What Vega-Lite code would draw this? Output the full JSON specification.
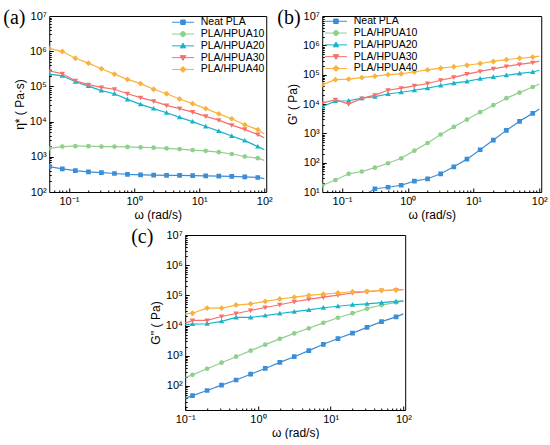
{
  "$schema": "https://vega.github.io/schema/vega-lite/v6.json",
  "background": "white",
  "padding": {"left": 2, "top": 7, "right": 0, "bottom": 0},
  "datasets": {
    "a": [
      {"w": 0.0501, "Neat PLA": 525, "PLA/HPUA10": 1740, "PLA/HPUA20": 224000, "PLA/HPUA30": 275000, "PLA/HPUA40": 1200000},
      {"w": 0.0794, "Neat PLA": 455, "PLA/HPUA10": 1950, "PLA/HPUA20": 200000, "PLA/HPUA30": 229000, "PLA/HPUA40": 977000},
      {"w": 0.126, "Neat PLA": 405, "PLA/HPUA10": 2000, "PLA/HPUA20": 135000, "PLA/HPUA30": 145000, "PLA/HPUA40": 631000},
      {"w": 0.2, "Neat PLA": 375, "PLA/HPUA10": 2000, "PLA/HPUA20": 102000, "PLA/HPUA30": 112000, "PLA/HPUA40": 457000},
      {"w": 0.316, "Neat PLA": 355, "PLA/HPUA10": 1950, "PLA/HPUA20": 75900, "PLA/HPUA30": 93300, "PLA/HPUA40": 316000},
      {"w": 0.501, "Neat PLA": 335, "PLA/HPUA10": 1950, "PLA/HPUA20": 61700, "PLA/HPUA30": 83200, "PLA/HPUA40": 224000},
      {"w": 0.794, "Neat PLA": 318, "PLA/HPUA10": 1905, "PLA/HPUA20": 42700, "PLA/HPUA30": 61700, "PLA/HPUA40": 158000},
      {"w": 1.26, "Neat PLA": 308, "PLA/HPUA10": 1860, "PLA/HPUA20": 30900, "PLA/HPUA30": 47900, "PLA/HPUA40": 120000},
      {"w": 2, "Neat PLA": 302, "PLA/HPUA10": 1820, "PLA/HPUA20": 23400, "PLA/HPUA30": 38000, "PLA/HPUA40": 83200},
      {"w": 3.16, "Neat PLA": 298, "PLA/HPUA10": 1740, "PLA/HPUA20": 17800, "PLA/HPUA30": 28800, "PLA/HPUA40": 61700},
      {"w": 5.01, "Neat PLA": 295, "PLA/HPUA10": 1660, "PLA/HPUA20": 13200, "PLA/HPUA30": 23400, "PLA/HPUA40": 43700},
      {"w": 7.94, "Neat PLA": 292, "PLA/HPUA10": 1550, "PLA/HPUA20": 10000, "PLA/HPUA30": 18600, "PLA/HPUA40": 32400},
      {"w": 12.6, "Neat PLA": 288, "PLA/HPUA10": 1480, "PLA/HPUA20": 7240, "PLA/HPUA30": 14100, "PLA/HPUA40": 23400},
      {"w": 20, "Neat PLA": 282, "PLA/HPUA10": 1350, "PLA/HPUA20": 5370, "PLA/HPUA30": 11000, "PLA/HPUA40": 16600},
      {"w": 31.6, "Neat PLA": 278, "PLA/HPUA10": 1200, "PLA/HPUA20": 3890, "PLA/HPUA30": 7940, "PLA/HPUA40": 12000},
      {"w": 50.1, "Neat PLA": 270, "PLA/HPUA10": 1020, "PLA/HPUA20": 2880, "PLA/HPUA30": 6030, "PLA/HPUA40": 8130},
      {"w": 79.4, "Neat PLA": 258, "PLA/HPUA10": 912, "PLA/HPUA20": 1950, "PLA/HPUA30": 4270, "PLA/HPUA40": 5890},
      {"w": 100, "Neat PLA": 240, "PLA/HPUA10": 794, "PLA/HPUA20": 1580, "PLA/HPUA30": 3470, "PLA/HPUA40": 4470}
    ],
    "b": [
      {"w": 0.0501, "Neat PLA": 3.2, "PLA/HPUA10": 16.6, "PLA/HPUA20": 8130, "PLA/HPUA30": 10700, "PLA/HPUA40": 45700},
      {"w": 0.0794, "Neat PLA": 4.0, "PLA/HPUA10": 25.7, "PLA/HPUA20": 12600, "PLA/HPUA30": 14100, "PLA/HPUA40": 67600},
      {"w": 0.126, "Neat PLA": 5.0, "PLA/HPUA10": 41.7, "PLA/HPUA20": 12900, "PLA/HPUA30": 10000, "PLA/HPUA40": 70800},
      {"w": 0.2, "Neat PLA": 7.1, "PLA/HPUA10": 50.1, "PLA/HPUA20": 15800, "PLA/HPUA30": 15500, "PLA/HPUA40": 79400},
      {"w": 0.316, "Neat PLA": 12.9, "PLA/HPUA10": 67.6, "PLA/HPUA20": 17800, "PLA/HPUA30": 20000, "PLA/HPUA40": 89100},
      {"w": 0.501, "Neat PLA": 14.5, "PLA/HPUA10": 95.5, "PLA/HPUA20": 21900, "PLA/HPUA30": 29500, "PLA/HPUA40": 100000},
      {"w": 0.794, "Neat PLA": 17.0, "PLA/HPUA10": 141, "PLA/HPUA20": 25100, "PLA/HPUA30": 34700, "PLA/HPUA40": 107000},
      {"w": 1.26, "Neat PLA": 23.4, "PLA/HPUA10": 257, "PLA/HPUA20": 29500, "PLA/HPUA30": 41700, "PLA/HPUA40": 126000},
      {"w": 2, "Neat PLA": 28.2, "PLA/HPUA10": 468, "PLA/HPUA20": 34700, "PLA/HPUA30": 50100, "PLA/HPUA40": 145000},
      {"w": 3.16, "Neat PLA": 41.7, "PLA/HPUA10": 912, "PLA/HPUA20": 42700, "PLA/HPUA30": 64600, "PLA/HPUA40": 166000},
      {"w": 5.01, "Neat PLA": 72.4, "PLA/HPUA10": 1660, "PLA/HPUA20": 51300, "PLA/HPUA30": 81300, "PLA/HPUA40": 186000},
      {"w": 7.94, "Neat PLA": 132, "PLA/HPUA10": 2950, "PLA/HPUA20": 58900, "PLA/HPUA30": 105000, "PLA/HPUA40": 209000},
      {"w": 12.6, "Neat PLA": 275, "PLA/HPUA10": 5250, "PLA/HPUA20": 72400, "PLA/HPUA30": 129000, "PLA/HPUA40": 240000},
      {"w": 20, "Neat PLA": 589, "PLA/HPUA10": 9120, "PLA/HPUA20": 83200, "PLA/HPUA30": 158000, "PLA/HPUA40": 282000},
      {"w": 31.6, "Neat PLA": 1260, "PLA/HPUA10": 15800, "PLA/HPUA20": 95500, "PLA/HPUA30": 191000, "PLA/HPUA40": 324000},
      {"w": 50.1, "Neat PLA": 2570, "PLA/HPUA10": 24500, "PLA/HPUA20": 110000, "PLA/HPUA30": 224000, "PLA/HPUA40": 363000},
      {"w": 79.4, "Neat PLA": 4790, "PLA/HPUA10": 38000, "PLA/HPUA20": 123000, "PLA/HPUA30": 257000, "PLA/HPUA40": 398000},
      {"w": 100, "Neat PLA": 6760, "PLA/HPUA10": 47900, "PLA/HPUA20": 141000, "PLA/HPUA30": 288000, "PLA/HPUA40": 427000}
    ],
    "c": [
      {"w": 0.1, "Neat PLA": 38.9, "PLA/HPUA10": 191, "PLA/HPUA20": 10700, "PLA/HPUA30": 12000, "PLA/HPUA40": 24500},
      {"w": 0.126, "Neat PLA": 47.9, "PLA/HPUA10": 234, "PLA/HPUA20": 11200, "PLA/HPUA30": 14800, "PLA/HPUA40": 25700},
      {"w": 0.2, "Neat PLA": 70.8, "PLA/HPUA10": 372, "PLA/HPUA20": 11500, "PLA/HPUA30": 14800, "PLA/HPUA40": 38000},
      {"w": 0.316, "Neat PLA": 107, "PLA/HPUA10": 589, "PLA/HPUA20": 13800, "PLA/HPUA30": 20000, "PLA/HPUA40": 38000},
      {"w": 0.501, "Neat PLA": 158, "PLA/HPUA10": 933, "PLA/HPUA20": 18600, "PLA/HPUA30": 25100, "PLA/HPUA40": 47900},
      {"w": 0.794, "Neat PLA": 245, "PLA/HPUA10": 1480, "PLA/HPUA20": 18600, "PLA/HPUA30": 31600, "PLA/HPUA40": 52500},
      {"w": 1.26, "Neat PLA": 380, "PLA/HPUA10": 2340, "PLA/HPUA20": 21400, "PLA/HPUA30": 39800, "PLA/HPUA40": 63100},
      {"w": 2, "Neat PLA": 603, "PLA/HPUA10": 3630, "PLA/HPUA20": 25100, "PLA/HPUA30": 49000, "PLA/HPUA40": 75900},
      {"w": 3.16, "Neat PLA": 933, "PLA/HPUA10": 5500, "PLA/HPUA20": 28800, "PLA/HPUA30": 61700, "PLA/HPUA40": 87100},
      {"w": 5.01, "Neat PLA": 1480, "PLA/HPUA10": 8130, "PLA/HPUA20": 33100, "PLA/HPUA30": 74100, "PLA/HPUA40": 100000},
      {"w": 7.94, "Neat PLA": 2400, "PLA/HPUA10": 12300, "PLA/HPUA20": 38900, "PLA/HPUA30": 87100, "PLA/HPUA40": 110000},
      {"w": 12.6, "Neat PLA": 3720, "PLA/HPUA10": 18200, "PLA/HPUA20": 43700, "PLA/HPUA30": 102000, "PLA/HPUA40": 120000},
      {"w": 20, "Neat PLA": 5620, "PLA/HPUA10": 25700, "PLA/HPUA20": 49000, "PLA/HPUA30": 120000, "PLA/HPUA40": 132000},
      {"w": 31.6, "Neat PLA": 8710, "PLA/HPUA10": 36300, "PLA/HPUA20": 52500, "PLA/HPUA30": 132000, "PLA/HPUA40": 135000},
      {"w": 50.1, "Neat PLA": 13500, "PLA/HPUA10": 47900, "PLA/HPUA20": 57500, "PLA/HPUA30": 145000, "PLA/HPUA40": 145000},
      {"w": 79.4, "Neat PLA": 19500, "PLA/HPUA10": 58900, "PLA/HPUA20": 63100, "PLA/HPUA30": 151000, "PLA/HPUA40": 151000},
      {"w": 100, "Neat PLA": 24500, "PLA/HPUA10": 66100, "PLA/HPUA20": 64600, "PLA/HPUA30": 155000, "PLA/HPUA40": 155000}
    ]
  },
  "vconcat": [
    {
      "hconcat": [
        {
          "data": {"name": "a"},
          "width": 217,
          "height": 176,
          "title": {"text": "(a)", "dx": -46},
          "transform": [{"fold": ["Neat PLA", "PLA/HPUA10", "PLA/HPUA20", "PLA/HPUA30", "PLA/HPUA40"], "as": ["series", "v"]}],
          "encoding": {
            "x": {"field": "w", "type": "quantitative", "scale": {"type": "log", "domain": [0.05, 107], "nice": false},
                  "axis": {"values": [0.1, 1, 10, 100], "title": "ω (rad/s)", "labelExpr": "'10' + (datum.value < 1 ? '⁻' : '') + ['⁰','¹','²','³','⁴','⁵','⁶','⁷'][abs(round(log(datum.value)/LN10))]"}},
            "y": {"field": "v", "type": "quantitative", "scale": {"type": "log", "domain": [100, 10000000], "nice": false},
                  "axis": {"values": [100, 1000, 10000, 100000, 1000000, 10000000], "title": "η* ( Pa·s)", "labelExpr": "'10' + ['⁰','¹','²','³','⁴','⁵','⁶','⁷'][abs(round(log(datum.value)/LN10))]"}},
            "color": {"field": "series", "type": "nominal",
                      "scale": {"domain": ["Neat PLA", "PLA/HPUA10", "PLA/HPUA20", "PLA/HPUA30", "PLA/HPUA40"], "range": ["#3b8ed6", "#8fd08c", "#17b3c9", "#f5716b", "#f9b23c"]},
                      "legend": {"orient": "top-right", "offset": 1,
                        "encode": {"symbols": {"update": {
                          "shape": {"signal": "['M-1,0H7.8M2.5,-0.9H4.3V0.9H2.5Z','M-1,0H7.8M2.4,0A1,1,0,1,0,4.4,0A1,1,0,1,0,2.4,0Z','M-1,0H7.8M3.4,-1.1L4.5,0.8H2.3Z','M-1,0H7.8M3.4,1.1L4.5,-0.8H2.3Z','M-1,0H7.8M3.4,-1.2L4.6,0L3.4,1.2L2.2,0Z'][indexof(['Neat PLA','PLA/HPUA10','PLA/HPUA20','PLA/HPUA30','PLA/HPUA40'], datum.value)]"},
                          "fill": {"signal": "['#3b8ed6','#8fd08c','#17b3c9','#f5716b','#f9b23c'][indexof(['Neat PLA','PLA/HPUA10','PLA/HPUA20','PLA/HPUA30','PLA/HPUA40'], datum.value)]"},
                          "stroke": {"signal": "['#3b8ed6','#8fd08c','#17b3c9','#f5716b','#f9b23c'][indexof(['Neat PLA','PLA/HPUA10','PLA/HPUA20','PLA/HPUA30','PLA/HPUA40'], datum.value)]"},
                          "strokeWidth": {"value": 1}, "size": {"value": 25}, "opacity": {"value": 1}}}}}}
          },
          "layer": [
            {"mark": {"type": "line", "strokeWidth": 1.2, "clip": true}},
            {
              "transform": [{"filter": "round(log(datum.w)/LN10*10) % 2 != 0"}],
              "mark": {"type": "point", "filled": true, "opacity": 1, "size": 22, "clip": true},
              "encoding": {
                "x": {"field": "w", "type": "quantitative", "scale": {"type": "log", "domain": [0.05, 107], "nice": false},
                      "axis": {"orient": "bottom", "values": [0.06, 0.07, 0.08, 0.09, 0.2, 0.3, 0.4, 0.5, 0.6, 0.7, 0.8, 0.9, 2, 3, 4, 5, 6, 7, 8, 9, 20, 30, 40, 50, 60, 70, 80, 90], "labels": false, "title": null, "tickSize": -2}},
                "y": {"field": "v", "type": "quantitative", "scale": {"type": "log", "domain": [100, 10000000], "nice": false},
                      "axis": {"orient": "left", "values": [200, 300, 400, 500, 600, 700, 800, 900, 2000, 3000, 4000, 5000, 6000, 7000, 8000, 9000, 20000, 30000, 40000, 50000, 60000, 70000, 80000, 90000, 200000, 300000, 400000, 500000, 600000, 700000, 800000, 900000, 2000000, 3000000, 4000000, 5000000, 6000000, 7000000, 8000000, 9000000], "labels": false, "title": null, "tickSize": -2}},
                "shape": {"field": "series", "type": "nominal",
                          "scale": {"domain": ["Neat PLA", "PLA/HPUA10", "PLA/HPUA20", "PLA/HPUA30", "PLA/HPUA40"], "range": ["M-1,-1H1V1H-1Z", "circle", "M0,-1.15L1.15,0.85H-1.15Z", "M0,1.15L1.15,-0.85H-1.15Z", "M0,-1.25L1.25,0L0,1.25L-1.25,0Z"]},
                          "legend": null}
              }
            }
          ],
          "resolve": {"axis": {"x": "independent", "y": "independent"}}
        },
        {
          "data": {"name": "b"},
          "width": 219,
          "height": 176,
          "title": {"text": "(b)", "dx": -45},
          "transform": [{"fold": ["Neat PLA", "PLA/HPUA10", "PLA/HPUA20", "PLA/HPUA30", "PLA/HPUA40"], "as": ["series", "v"]}],
          "encoding": {
            "x": {"field": "w", "type": "quantitative", "scale": {"type": "log", "domain": [0.05, 107], "nice": false},
                  "axis": {"values": [0.1, 1, 10, 100], "title": "ω (rad/s)", "labelExpr": "'10' + (datum.value < 1 ? '⁻' : '') + ['⁰','¹','²','³','⁴','⁵','⁶','⁷'][abs(round(log(datum.value)/LN10))]"}},
            "y": {"field": "v", "type": "quantitative", "scale": {"type": "log", "domain": [10, 10000000], "nice": false},
                  "axis": {"values": [10, 100, 1000, 10000, 100000, 1000000, 10000000], "title": "G' ( Pa)", "labelExpr": "'10' + ['⁰','¹','²','³','⁴','⁵','⁶','⁷'][abs(round(log(datum.value)/LN10))]"}},
            "color": {"field": "series", "type": "nominal",
                      "scale": {"domain": ["Neat PLA", "PLA/HPUA10", "PLA/HPUA20", "PLA/HPUA30", "PLA/HPUA40"], "range": ["#3b8ed6", "#8fd08c", "#17b3c9", "#f5716b", "#f9b23c"]},
                      "legend": {"orient": "top-left", "offset": 0,
                        "encode": {"symbols": {"update": {
                          "shape": {"signal": "['M-1,0H7.8M2.5,-0.9H4.3V0.9H2.5Z','M-1,0H7.8M2.4,0A1,1,0,1,0,4.4,0A1,1,0,1,0,2.4,0Z','M-1,0H7.8M3.4,-1.1L4.5,0.8H2.3Z','M-1,0H7.8M3.4,1.1L4.5,-0.8H2.3Z','M-1,0H7.8M3.4,-1.2L4.6,0L3.4,1.2L2.2,0Z'][indexof(['Neat PLA','PLA/HPUA10','PLA/HPUA20','PLA/HPUA30','PLA/HPUA40'], datum.value)]"},
                          "fill": {"signal": "['#3b8ed6','#8fd08c','#17b3c9','#f5716b','#f9b23c'][indexof(['Neat PLA','PLA/HPUA10','PLA/HPUA20','PLA/HPUA30','PLA/HPUA40'], datum.value)]"},
                          "stroke": {"signal": "['#3b8ed6','#8fd08c','#17b3c9','#f5716b','#f9b23c'][indexof(['Neat PLA','PLA/HPUA10','PLA/HPUA20','PLA/HPUA30','PLA/HPUA40'], datum.value)]"},
                          "strokeWidth": {"value": 1}, "size": {"value": 25}, "opacity": {"value": 1}}}}}}
          },
          "layer": [
            {"mark": {"type": "line", "strokeWidth": 1.2, "clip": true}},
            {
              "transform": [{"filter": "round(log(datum.w)/LN10*10) % 2 != 0"}],
              "mark": {"type": "point", "filled": true, "opacity": 1, "size": 22, "clip": true},
              "encoding": {
                "x": {"field": "w", "type": "quantitative", "scale": {"type": "log", "domain": [0.05, 107], "nice": false},
                      "axis": {"orient": "bottom", "values": [0.06, 0.07, 0.08, 0.09, 0.2, 0.3, 0.4, 0.5, 0.6, 0.7, 0.8, 0.9, 2, 3, 4, 5, 6, 7, 8, 9, 20, 30, 40, 50, 60, 70, 80, 90], "labels": false, "title": null, "tickSize": -2}},
                "y": {"field": "v", "type": "quantitative", "scale": {"type": "log", "domain": [10, 10000000], "nice": false},
                      "axis": {"orient": "left", "values": [20, 30, 40, 50, 60, 70, 80, 90, 200, 300, 400, 500, 600, 700, 800, 900, 2000, 3000, 4000, 5000, 6000, 7000, 8000, 9000, 20000, 30000, 40000, 50000, 60000, 70000, 80000, 90000, 200000, 300000, 400000, 500000, 600000, 700000, 800000, 900000, 2000000, 3000000, 4000000, 5000000, 6000000, 7000000, 8000000, 9000000], "labels": false, "title": null, "tickSize": -2}},
                "shape": {"field": "series", "type": "nominal",
                          "scale": {"domain": ["Neat PLA", "PLA/HPUA10", "PLA/HPUA20", "PLA/HPUA30", "PLA/HPUA40"], "range": ["M-1,-1H1V1H-1Z", "circle", "M0,-1.15L1.15,0.85H-1.15Z", "M0,1.15L1.15,-0.85H-1.15Z", "M0,-1.25L1.25,0L0,1.25L-1.25,0Z"]},
                          "legend": null}
              }
            }
          ],
          "resolve": {"axis": {"x": "independent", "y": "independent"}}
        }
      ],
      "spacing": 3
    },
    {
      "data": {"name": "c"},
      "width": 220,
      "height": 175,
      "title": {"text": "(c)", "dx": -54},
      "transform": [{"fold": ["Neat PLA", "PLA/HPUA10", "PLA/HPUA20", "PLA/HPUA30", "PLA/HPUA40"], "as": ["series", "v"]}],
      "encoding": {
        "x": {"field": "w", "type": "quantitative", "scale": {"type": "log", "domain": [0.1, 106], "nice": false},
              "axis": {"values": [0.1, 1, 10, 100], "title": "ω (rad/s)", "labelExpr": "'10' + (datum.value < 1 ? '⁻' : '') + ['⁰','¹','²','³','⁴','⁵','⁶','⁷'][abs(round(log(datum.value)/LN10))]"}},
        "y": {"field": "v", "type": "quantitative", "scale": {"type": "log", "domain": [16, 10000000], "nice": false},
              "axis": {"values": [100, 1000, 10000, 100000, 1000000, 10000000], "title": "G'' ( Pa)", "labelExpr": "'10' + ['⁰','¹','²','³','⁴','⁵','⁶','⁷'][abs(round(log(datum.value)/LN10))]"}},
        "color": {"field": "series", "type": "nominal",
                  "scale": {"domain": ["Neat PLA", "PLA/HPUA10", "PLA/HPUA20", "PLA/HPUA30", "PLA/HPUA40"], "range": ["#3b8ed6", "#8fd08c", "#17b3c9", "#f5716b", "#f9b23c"]},
                  "legend": {"orient": "top-left", "offset": 0,
                    "encode": {"symbols": {"update": {
                      "shape": {"signal": "['M-1,0H7.8M2.5,-0.9H4.3V0.9H2.5Z','M-1,0H7.8M2.4,0A1,1,0,1,0,4.4,0A1,1,0,1,0,2.4,0Z','M-1,0H7.8M3.4,-1.1L4.5,0.8H2.3Z','M-1,0H7.8M3.4,1.1L4.5,-0.8H2.3Z','M-1,0H7.8M3.4,-1.2L4.6,0L3.4,1.2L2.2,0Z'][indexof(['Neat PLA','PLA/HPUA10','PLA/HPUA20','PLA/HPUA30','PLA/HPUA40'], datum.value)]"},
                      "fill": {"signal": "['#3b8ed6','#8fd08c','#17b3c9','#f5716b','#f9b23c'][indexof(['Neat PLA','PLA/HPUA10','PLA/HPUA20','PLA/HPUA30','PLA/HPUA40'], datum.value)]"},
                      "stroke": {"signal": "['#3b8ed6','#8fd08c','#17b3c9','#f5716b','#f9b23c'][indexof(['Neat PLA','PLA/HPUA10','PLA/HPUA20','PLA/HPUA30','PLA/HPUA40'], datum.value)]"},
                      "strokeWidth": {"value": 1}, "size": {"value": 25}, "opacity": {"value": 1}}}}}}
      },
      "layer": [
        {"mark": {"type": "line", "strokeWidth": 1.2, "clip": true}},
        {
          "transform": [{"filter": "round(log(datum.w)/LN10*10) % 2 != 0"}],
          "mark": {"type": "point", "filled": true, "opacity": 1, "size": 22, "clip": true},
          "encoding": {
            "x": {"field": "w", "type": "quantitative", "scale": {"type": "log", "domain": [0.1, 106], "nice": false},
                  "axis": {"orient": "bottom", "values": [0.2, 0.3, 0.4, 0.5, 0.6, 0.7, 0.8, 0.9, 2, 3, 4, 5, 6, 7, 8, 9, 20, 30, 40, 50, 60, 70, 80, 90], "labels": false, "title": null, "tickSize": -2}},
            "y": {"field": "v", "type": "quantitative", "scale": {"type": "log", "domain": [16, 10000000], "nice": false},
                  "axis": {"orient": "left", "values": [20, 30, 40, 50, 60, 70, 80, 90, 200, 300, 400, 500, 600, 700, 800, 900, 2000, 3000, 4000, 5000, 6000, 7000, 8000, 9000, 20000, 30000, 40000, 50000, 60000, 70000, 80000, 90000, 200000, 300000, 400000, 500000, 600000, 700000, 800000, 900000, 2000000, 3000000, 4000000, 5000000, 6000000, 7000000, 8000000, 9000000], "labels": false, "title": null, "tickSize": -2}},
            "shape": {"field": "series", "type": "nominal",
                      "scale": {"domain": ["Neat PLA", "PLA/HPUA10", "PLA/HPUA20", "PLA/HPUA30", "PLA/HPUA40"], "range": ["M-1,-1H1V1H-1Z", "circle", "M0,-1.15L1.15,0.85H-1.15Z", "M0,1.15L1.15,-0.85H-1.15Z", "M0,-1.25L1.25,0L0,1.25L-1.25,0Z"]},
                      "legend": null}
          }
        }
      ],
      "resolve": {"axis": {"x": "independent", "y": "independent"}}
    }
  ],
  "spacing": 5,
  "center": true,
  "config": {
    "font": "Liberation Sans",
    "view": {"stroke": "#000000", "strokeWidth": 1},
    "axis": {
      "grid": false,
      "domain": false,
      "tickColor": "#000000",
      "tickSize": -4,
      "tickWidth": 1,
      "labelColor": "#000000",
      "labelFont": "Liberation Sans",
      "labelFontSize": 11,
      "labelPadding": 7,
      "labelFlush": false,
      "labelOverlap": false,
      "titleColor": "#000000",
      "titleFont": "Liberation Sans",
      "titleFontSize": 12,
      "titleFontWeight": "normal",
      "titlePadding": 3
    },
    "legend": {
      "title": null,
      "padding": 0,
      "labelFont": "Liberation Sans",
      "labelFontSize": 10.5,
      "labelColor": "#000000",
      "labelOffset": 21,
      "rowPadding": 0.8,
      "symbolSize": 25
    },
    "title": {
      "anchor": "start",
      "frame": "group",
      "font": "Liberation Serif",
      "fontSize": 20,
      "fontWeight": "normal",
      "color": "#000000",
      "offset": -18,
      "baseline": "alphabetic"
    }
  }
}
